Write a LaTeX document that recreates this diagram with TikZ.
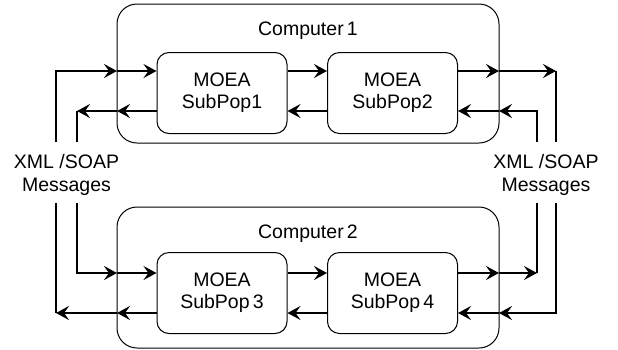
\documentclass[tikz,border=0pt]{standalone}
\usepackage{fontspec}
\setmainfont{Liberation Sans}
\usetikzlibrary{arrows.meta}
\begin{document}
\begin{tikzpicture}[x=1pt,y=-1pt,
 comp/.style={draw, line width=1pt, rounded corners=20pt, minimum width=382pt, inner sep=0pt},
 pop/.style={draw, line width=1pt, rounded corners=12pt, minimum width=130pt, minimum height=81pt, align=center, font=\fontsize{19.5}{22}\selectfont, inner sep=0pt},
 lbl/.style={align=center, font=\fontsize{19.5}{23}\selectfont, inner sep=0pt},
 conn/.style={line width=2pt, -{Stealth[length=13pt,width=14pt,inset=5pt]}},
 wire/.style={line width=2pt}]
\useasboundingbox (0,0) rectangle (618,349);
% computer boxes
\node[comp, minimum height=139pt] (c1) at (308,73.5) {};
\node[comp, minimum height=141pt] (c2) at (308,277.5) {};
\node[lbl] (t1) at (308,31) {Computer\,1};
\node[lbl] (t2) at (308,233.5) {Computer\,2};
% subpopulations
\node[pop] (s1) at (222,93) {MOEA\\SubPop1};
\node[pop] (s2) at (392.5,93) {MOEA\\SubPop2};
\node[pop] (s3) at (222,293) {MOEA\\SubPop\,3};
\node[pop] (s4) at (392.5,293) {MOEA\\SubPop\,4};
% labels
\node[lbl] (xl) at (66.5,175) {XML /SOAP\\Messages};
\node[lbl] (xr) at (546,175) {XML /SOAP\\Messages};
% coordinates: top left
\coordinate (a1) at (56,142);
\coordinate (a2) at (117,71);
\coordinate (a3) at (117,111);
\coordinate (a4) at (77,111);
\coordinate (a5) at (77,142);
% top right
\coordinate (b1) at (499,71);
\coordinate (b2) at (556,71);
\coordinate (b3) at (556,142);
\coordinate (b4) at (537,142);
\coordinate (b5) at (499,111);
% bottom left
\coordinate (d1) at (77,203);
\coordinate (d2) at (117,273);
\coordinate (d3) at (117,313);
\coordinate (d4) at (56,313);
\coordinate (d5) at (56,203);
% bottom right
\coordinate (e1) at (499,273);
\coordinate (e2) at (537,273);
\coordinate (e3) at (537,203);
\coordinate (e4) at (556,203);
\coordinate (e5) at (499,313);
% top connectors
\draw[conn] (a1) |- (a2);
\draw[conn] (a2) -- (s1.west |- a2);
\draw[conn] (s1.west |- a3) -- (a3);
\draw[conn] (a3) -- (a4);
\draw[wire] (a4) -- (a5);
\draw[conn] (s1.east |- a2) -- (s2.west |- a2);
\draw[conn] (s2.west |- a3) -- (s1.east |- a3);
\draw[conn] (s2.east |- b1) -- (b1);
\draw[conn] (b1) -- (b2);
\draw[wire] (b2) -- (b3);
\draw[conn] (b4) |- (b5);
\draw[conn] (b5) -- (s2.east |- b5);
% bottom connectors
\draw[conn] (d1) |- (d2);
\draw[conn] (d2) -- (s3.west |- d2);
\draw[conn] (s3.west |- d3) -- (d3);
\draw[conn] (d3) -- (d4);
\draw[wire] (d4) -- (d5);
\draw[conn] (s3.east |- d2) -- (s4.west |- d2);
\draw[conn] (s4.west |- d3) -- (s3.east |- d3);
\draw[conn] (s4.east |- e1) -- (e1);
\draw[conn] (e1) -- (e2);
\draw[wire] (e2) -- (e3);
\draw[conn] (e4) |- (e5);
\draw[conn] (e5) -- (s4.east |- e5);
\end{tikzpicture}
\end{document}
